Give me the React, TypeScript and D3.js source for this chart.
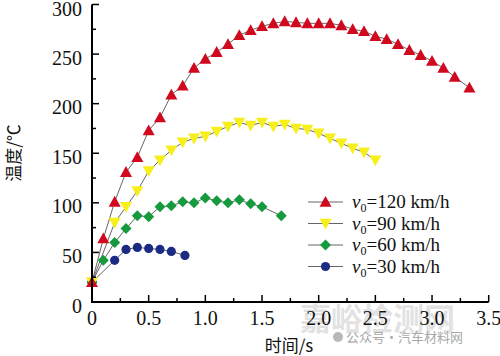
import React from "react";
import * as d3 from "d3";

const W = 500;
const H = 356;

// time (s) and temperature (°C) for each initial speed
const t120 = [0, 0.1, 0.2, 0.3, 0.4, 0.5, 0.6, 0.7, 0.8, 0.9, 1.0, 1.1, 1.2, 1.3, 1.4, 1.5, 1.6, 1.7, 1.8, 1.9, 2.0, 2.1, 2.2, 2.3, 2.4, 2.5, 2.6, 2.7, 2.8, 2.9, 3.0, 3.1, 3.2, 3.33];
const v120 = [20, 64, 101, 131, 146, 173, 186, 209, 218, 236, 245, 252, 260, 269, 274, 278, 281, 283, 282, 281, 281, 281, 279, 275, 273, 268, 265, 260, 254, 249, 243, 236, 227, 216];

const t90 = [0, 0.2, 0.3, 0.4, 0.5, 0.6, 0.7, 0.8, 0.9, 1.0, 1.1, 1.2, 1.3, 1.4, 1.5, 1.6, 1.7, 1.8, 1.9, 2.0, 2.1, 2.2, 2.3, 2.4, 2.5];
const v90 = [20, 80, 96, 112, 132, 143, 153, 161, 165, 167, 172, 177, 181, 178, 181, 177, 179, 175, 174, 170, 165, 160, 155, 151, 143];

const t60 = [0, 0.1, 0.2, 0.3, 0.4, 0.5, 0.6, 0.7, 0.8, 0.9, 1.0, 1.1, 1.2, 1.3, 1.4, 1.5, 1.67];
const v60 = [20, 42, 60, 74, 87, 86, 96, 97, 101, 100, 105, 102, 100, 103, 99, 96, 87];

const t30 = [0, 0.2, 0.3, 0.4, 0.5, 0.6, 0.7, 0.82];
const v30 = [20, 42, 53, 55, 54, 53, 51, 47];

const xTicks = [0, 0.5, 1.0, 1.5, 2.0, 2.5, 3.0, 3.5];
const xTickLabels = ["0", "0.5", "1.0", "1.5", "2.0", "2.5", "3.0", "3.5"];
const yTicks = [0, 50, 100, 150, 200, 250, 300];

const speeds = ["120", "90", "60", "30"];
const colors = ["#d0091e", "#f7ef1c", "#169a3e", "#1b2a82"];
const shapes = ["up", "down", "diamond", "circle"];

const serif = "'Liberation Serif', 'DejaVu Serif', serif";
const cjk = "'Noto Sans CJK SC', sans-serif";

function Marker({ shape, x, y, color }: { shape: string; x: number; y: number; color: string }) {
  if (shape === "up") {
    const s = 6;
    return <path d={`M${x},${y - s}L${x + s},${y + s * 0.8}L${x - s},${y + s * 0.8}Z`} fill={color} />;
  }
  if (shape === "down") {
    const s = 6;
    return <path d={`M${x},${y + s}L${x + s},${y - s * 0.8}L${x - s},${y - s * 0.8}Z`} fill={color} />;
  }
  if (shape === "diamond") {
    const s = 5.5;
    return <path d={`M${x},${y - s}L${x + s},${y}L${x},${y + s}L${x - s},${y}Z`} fill={color} />;
  }
  return <circle cx={x} cy={y} r={4.6} fill={color} />;
}

export default function App() {
  const x = d3.scaleLinear().domain([0, 3.5]).range([92, 488.7]);
  const y = d3.scaleLinear().domain([0, 300]).range([302, 4.5]);

  const series = [
    { t: t120, v: v120 },
    { t: t90, v: v90 },
    { t: t60, v: v60 },
    { t: t30, v: v30 },
  ];

  const line = d3
    .line<[number, number]>()
    .x((d) => x(d[0]))
    .y((d) => y(d[1]));

  const xMinor = d3.range(0, 3.5 + 1e-9, 0.25);
  const yMinor = d3.range(0, 300 + 1e-9, 25);

  const order = [3, 2, 1, 0];

  return (
    <svg width={W} height={H} style={{ position: "absolute", left: 0, top: 0, background: "#fff" }}>
      {/* watermark */}
      <text x={300} y={330} fontFamily={cjk} fontSize={31} fontWeight={700} fill="#e2e2e2">
        嘉峪检测网
      </text>
      <text x={346} y={342} fontFamily={cjk} fontSize={13} fill="#a8a8a8">
        公众号·汽车材料网
      </text>
      <circle cx={338} cy={337} r={5} fill="#b8b8b8" />

      {/* lines */}
      {order.map((i) => {
        const s = series[i];
        const pts = s.t.map((tt, j) => [tt, s.v[j]] as [number, number]);
        return <path key={"l" + i} d={line(pts) || ""} fill="none" stroke="#555" strokeWidth={0.9} />;
      })}
      {/* markers */}
      {order.map((i) => {
        const s = series[i];
        return (
          <g key={"m" + i}>
            {s.t.map((tt, j) => (
              <Marker key={j} shape={shapes[i]} x={x(tt)} y={y(s.v[j])} color={colors[i]} />
            ))}
          </g>
        );
      })}

      {/* axes */}
      <line x1={92} x2={92} y1={y(300)} y2={y(0) + 1} stroke="#000" strokeWidth={2} />
      <line x1={91} x2={x(3.5)} y1={y(0)} y2={y(0)} stroke="#000" strokeWidth={2} />
      {xMinor.map((v, i) => {
        const major = Math.abs(v * 2 - Math.round(v * 2)) < 1e-6;
        return (
          <line key={"xt" + i} x1={x(v)} x2={x(v)} y1={y(0)} y2={y(0) - (major ? 7 : 4)} stroke="#000" strokeWidth={1.5} />
        );
      })}
      {yMinor.map((v, i) => {
        const major = v % 50 === 0;
        return (
          <line key={"yt" + i} x1={92} x2={92 + (major ? 7 : 4)} y1={y(v)} y2={y(v)} stroke="#000" strokeWidth={1.5} />
        );
      })}
      {xTicks.map((v, i) => (
        <text key={"xl" + i} x={x(v)} y={325} textAnchor="middle" fontFamily={serif} fontSize={20} fill="#111">
          {xTickLabels[i]}
        </text>
      ))}
      {yTicks.map((v, i) => (
        <text key={"yl" + i} x={82} y={Math.max(y(v) + 10.5, 16)} textAnchor="end" fontFamily={serif} fontSize={20} fill="#111">
          {v}
        </text>
      ))}

      {/* axis titles */}
      <text x={289} y={352} textAnchor="middle" fontFamily={cjk} fontSize={17} fill="#111">
        时间/s
      </text>
      <text
        transform={`translate(20,153) rotate(-90)`}
        textAnchor="middle"
        fontFamily={cjk}
        fontSize={17}
        fill="#111"
      >
        温度/℃
      </text>

      {/* legend */}
      {speeds.map((sp, i) => {
        const ly = 202 + i * 21.5;
        return (
          <g key={"lg" + i}>
            <line x1={308} x2={343} y1={ly} y2={ly} stroke="#555" strokeWidth={0.9} />
            <Marker shape={shapes[i]} x={325.5} y={ly} color={colors[i]} />
            <text x={352} y={ly + 6} fontFamily={serif} fontSize={19} fill="#111">
              <tspan fontStyle="italic">v</tspan>
              <tspan fontSize={12} dy={4}>0</tspan>
              <tspan dy={-4}>{"=" + sp + " km/h"}</tspan>
            </text>
          </g>
        );
      })}
    </svg>
  );
}
